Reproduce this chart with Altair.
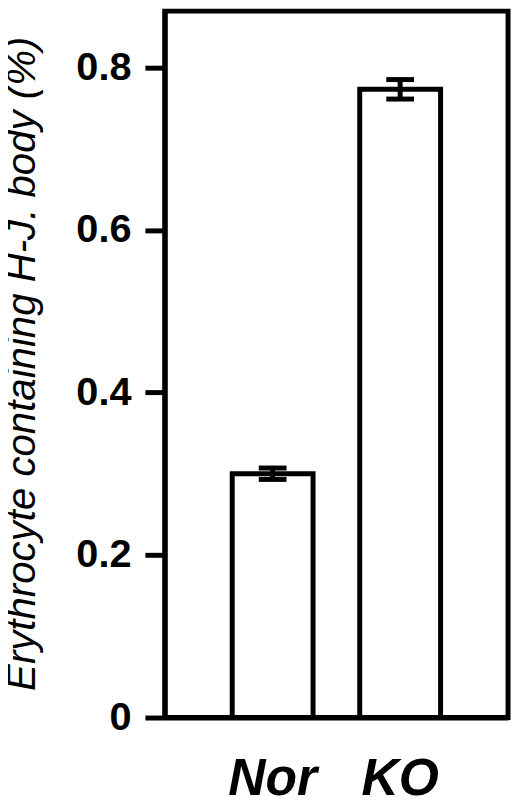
import altair as alt
import pandas as pd

groups = ["Nor", "KO"]
means = [0.300, 0.773]
errs = [0.007, 0.012]

df = pd.DataFrame({
    "group": groups,
    "mean": means,
    "lo": [m - e for m, e in zip(means, errs)],
    "hi": [m + e for m, e in zip(means, errs)],
})

FONT = "Liberation Sans"

x_enc = alt.X(
    "group:N",
    sort=groups,
    title=None,
    scale=alt.Scale(paddingInner=0.366, paddingOuter=0.529),
    axis=alt.Axis(
        labelAngle=0,
        ticks=False,
        domainWidth=5,
        domainColor="black",
        labelFont=FONT,
        labelFontSize=52,
        labelFontWeight="bold",
        labelFontStyle="italic",
        labelColor="black",
        labelBaseline="alphabetic",
        labelPadding=78,
    ),
)

y_scale = alt.Scale(domain=[0, 0.8692], nice=False, zero=True)

y_axis = alt.Axis(
    values=[0, 0.2, 0.4, 0.6, 0.8],
    labelExpr="datum.value == 0 ? '0' : format(datum.value, '.1f')",
    grid=False,
    domainWidth=5,
    domainColor="black",
    tickWidth=5,
    tickSize=20,
    tickColor="black",
    labelFont=FONT,
    labelFontSize=40,
    labelFontWeight="bold",
    labelColor="black",
    labelPadding=14,
    title="Erythrocyte containing H-J. body (%)",
    titleFont=FONT,
    titleFontSize=40.5,
    titleFontStyle="italic",
    titleFontWeight="normal",
    titleColor="black",
    titleAngle=270,
    titleBaseline="alphabetic",
    titleAlign="center",
    titleX=-131,
    titleY=355,
)

base = alt.Chart(df)

bars = base.mark_bar(fill="white", stroke="black", strokeWidth=5).encode(
    x=x_enc,
    y=alt.Y("mean:Q", scale=y_scale, axis=y_axis),
)

rule = base.mark_rule(color="black", strokeWidth=5).encode(
    x=alt.X("group:N", sort=groups),
    y=alt.Y("lo:Q", scale=y_scale),
    y2="hi:Q",
)

cap_lo = base.mark_tick(color="black", size=28, thickness=5, opacity=1).encode(
    x=alt.X("group:N", sort=groups),
    y=alt.Y("lo:Q", scale=y_scale),
)
cap_hi = base.mark_tick(color="black", size=28, thickness=5, opacity=1).encode(
    x=alt.X("group:N", sort=groups),
    y=alt.Y("hi:Q", scale=y_scale),
)

chart = alt.layer(bars, rule, cap_lo, cap_hi).properties(
    width=346,
    height=712,
    background="white",
    autosize=alt.AutoSizeParams(type="none"),
    padding={"left": 158, "top": 0, "right": 4, "bottom": 85},
).configure_view(stroke="black", strokeWidth=5)

chart.save("out.html", embed_options={"renderer": "svg", "actions": False})
